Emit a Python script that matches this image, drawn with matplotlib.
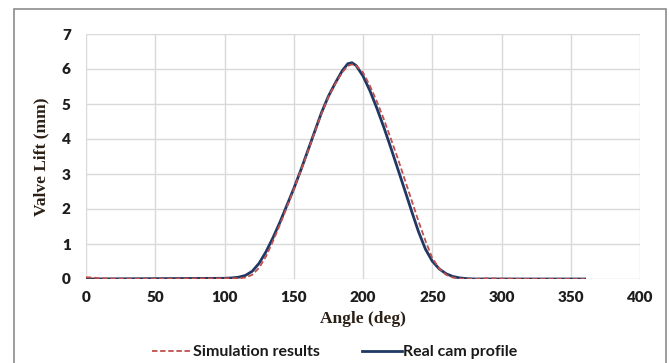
import matplotlib.pyplot as plt
from matplotlib.patches import Rectangle

# real cam profile (deg, mm)
cam_angle = [0, 50, 100, 105, 110, 115, 120, 125, 130, 135, 140, 145, 150, 155,
             160, 165, 170, 175, 180, 185, 189, 192, 195, 200, 205, 210, 215,
             220, 225, 230, 235, 240, 245, 250, 255, 260, 265, 270, 275, 280, 360]
cam_lift = [0.0, 0.01, 0.02, 0.03, 0.05, 0.1, 0.22, 0.45, 0.78, 1.18, 1.62, 2.1,
            2.58, 3.1, 3.65, 4.2, 4.75, 5.22, 5.6, 5.95, 6.15, 6.18, 6.1, 5.8,
            5.38, 4.88, 4.34, 3.76, 3.16, 2.56, 1.95, 1.36, 0.86, 0.51, 0.29,
            0.15, 0.07, 0.03, 0.01, 0.0, 0.0]

# simulation results (deg, mm)
sim_angle = [0, 5, 10, 20, 50, 110, 115, 120, 125, 130, 135, 140, 145, 150, 155,
             160, 165, 170, 175, 180, 185, 189, 192, 195, 200, 205, 210, 215,
             220, 225, 230, 235, 240, 245, 250, 255, 260, 265, 270, 280, 290,
             300, 320, 360]
sim_lift = [0.05, 0.04, 0.02, 0.01, 0.01, 0.02, 0.04, 0.12, 0.32, 0.65, 1.08,
            1.55, 2.05, 2.55, 3.08, 3.62, 4.18, 4.72, 5.2, 5.58, 5.9, 6.09, 6.13,
            6.1, 5.9, 5.52, 5.07, 4.57, 4.02, 3.46, 2.86, 2.26, 1.66, 1.1, 0.6,
            0.3, 0.12, 0.04, 0.01, 0.0, 0.02, 0.01, 0.0, 0.0]

x_ticks = [0, 50, 100, 150, 200, 250, 300, 350, 400]
y_ticks = [0, 1, 2, 3, 4, 5, 6, 7]

label_color = '#2b2016'
tick_font = dict(family='Lato', weight='bold', size=11.5)

fig = plt.figure(figsize=(6.69, 3.63), dpi=100)
ax = fig.add_axes([86 / 669, 1 - 279 / 363, 554 / 669, 245 / 363])

ax.plot(sim_angle, sim_lift, color='#c0504d', lw=1.3, ls=(0, (3, 1.5)),
        label='Simulation results', zorder=3)
ax.plot(cam_angle, cam_lift, color='#1f3864', lw=2.0,
        label='Real cam profile', zorder=2)

ax.set_xlim(0, 400)
ax.set_ylim(0, 7)
ax.set_xticks(x_ticks)
ax.set_yticks(y_ticks)
ax.grid(True, color='#d9d9d9', lw=1.0)
ax.set_axisbelow(True)
for s in ax.spines.values():
    s.set_visible(False)
ax.tick_params(length=0, pad=9)
for lab in ax.get_xticklabels() + ax.get_yticklabels():
    lab.set_fontfamily('Lato')
    lab.set_fontweight('heavy')
    lab.set_fontsize(11)
    lab.set_color('#1e1e1e')
ax.tick_params(axis='y', pad=11)

ax.set_xlabel('Angle (deg)', family='Liberation Serif', weight='bold',
              size=12.5, color=label_color, labelpad=5)
ax.set_ylabel('Valve Lift (mm)', family='Liberation Serif', weight='bold',
              size=12.5, color=label_color, labelpad=9)

leg = fig.legend(loc='center', bbox_to_anchor=(0.5, 1 - 352 / 363), ncol=2,
                 frameon=False, prop=tick_font, handlelength=2.5,
                 handletextpad=0.1, columnspacing=2.6)
for t in leg.get_texts():
    t.set_color('#1a1a1a')

# outer border of the figure
fig.patches.append(Rectangle((14 / 669, -0.02), 652 / 669, 1.02 - 9 / 363,
                             transform=fig.transFigure, fill=False,
                             edgecolor='#8c8c8c', lw=1.2))

fig.savefig('out.png', dpi=100)
